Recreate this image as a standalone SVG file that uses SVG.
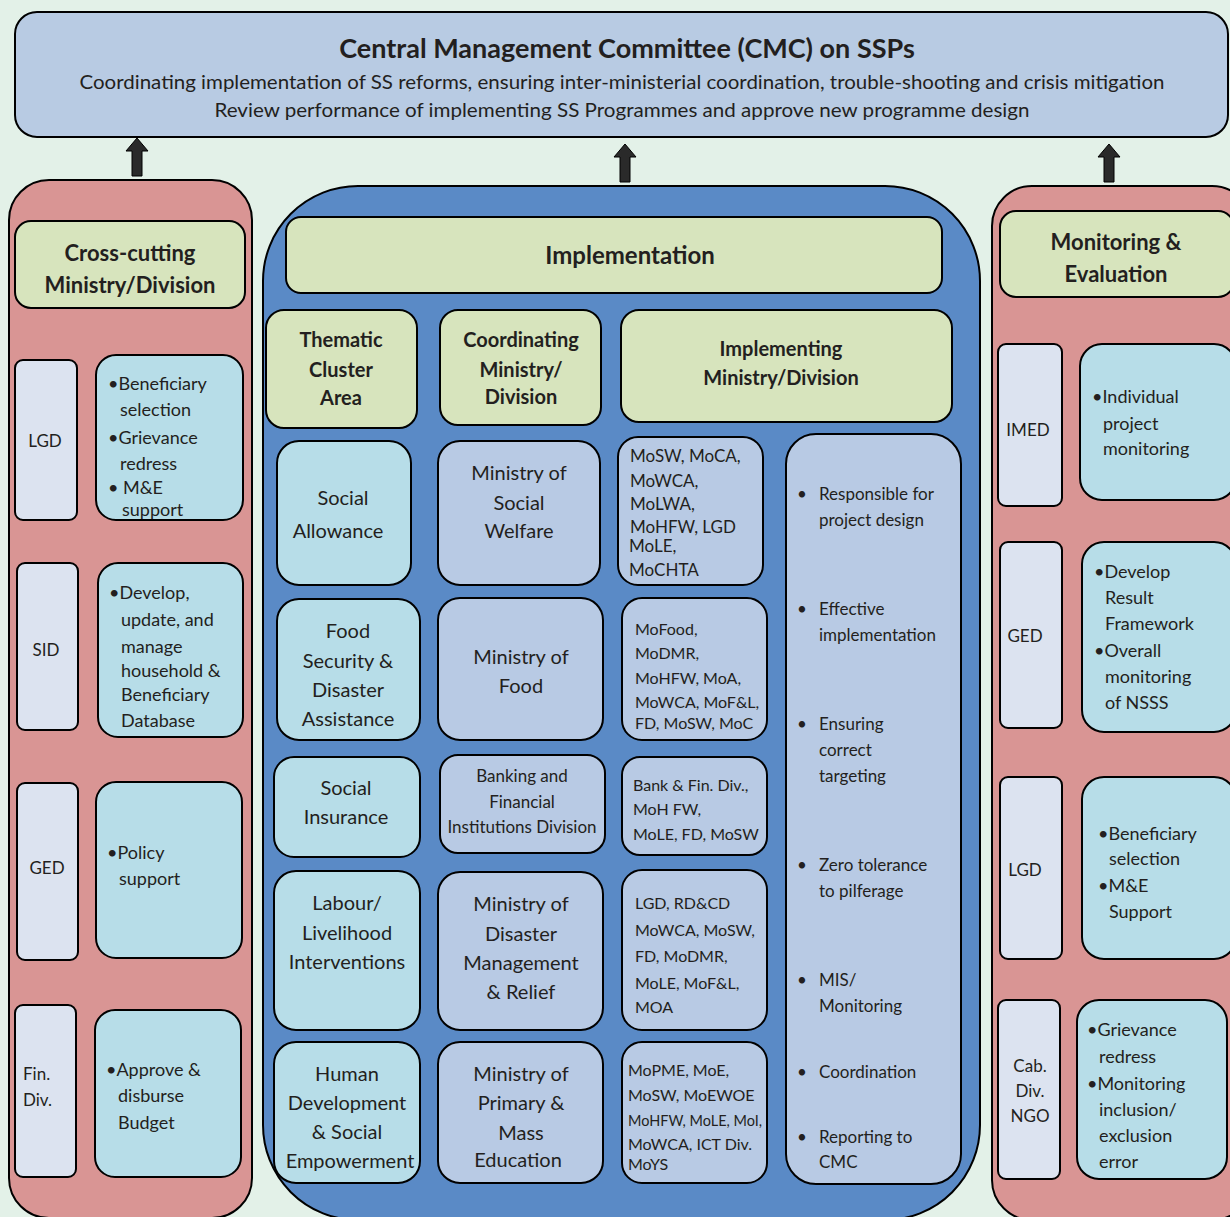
<svg xmlns="http://www.w3.org/2000/svg" xmlns:xlink="http://www.w3.org/1999/xlink" width="1230" height="1217" viewBox="0 0 1230 1217">
<style>
text{font-family:Lato,"Open Sans","Liberation Sans",sans-serif;fill:#231f20}
.b{font-weight:bold}
.c{text-anchor:middle}
.hdr{fill:#d7e4bd;stroke:#000;stroke-width:2}
.pink{fill:#d99594;stroke:#000;stroke-width:2}
.lav{fill:#dce3f0;stroke:#000;stroke-width:2}
.cy{fill:#b7dde8;stroke:#000;stroke-width:2}
.bl{fill:#b8cae4;stroke:#000;stroke-width:2}
.t18{font-size:18px}
.t20{font-size:20px}
.t17{font-size:17px}
.t16{font-size:16px}
.arr{fill:#2a2a2a;stroke:#000;stroke-width:1}
</style>
<defs>
<path id="ra" d="M0,-4 H9 V-8 L16,0 L9,8 V4 H0 Z"/>
<path id="ua" d="M-5,0 V-25 H-11 L0,-38 L11,-25 H5 V0 Z"/>
</defs>
<rect width="1230" height="1217" fill="#e3f1e8"/>

<g id="cmc">
<rect x="15" y="12" width="1213" height="125" rx="22" fill="#b8cbe3" stroke="#000" stroke-width="2"/>
<text x="627" y="58" class="b c" font-size="27">Central Management Committee (CMC) on SSPs</text>
<text x="622" y="89" class="c" font-size="20" textLength="1085" lengthAdjust="spacingAndGlyphs">Coordinating implementation of SS reforms, ensuring inter-ministerial coordination, trouble-shooting and crisis mitigation</text>
<text x="622" y="117" class="c" font-size="20" textLength="815" lengthAdjust="spacingAndGlyphs">Review performance of implementing SS Programmes and approve new programme design</text>
</g>

<g id="connectors" class="arr">
<use xlink:href="#ua" href="#ua" x="137" y="176"/>
<use xlink:href="#ua" href="#ua" x="625" y="182"/>
<use xlink:href="#ua" href="#ua" x="1109" y="182"/>
<use xlink:href="#ra" href="#ra" x="79" y="440"/>
<use xlink:href="#ra" href="#ra" x="80" y="650"/>
<use xlink:href="#ra" href="#ra" x="79" y="870"/>
<use xlink:href="#ra" href="#ra" x="78" y="1091"/>
<use xlink:href="#ra" href="#ra" x="413" y="503"/>
<use xlink:href="#ra" href="#ra" x="601" y="512"/>
<use xlink:href="#ra" href="#ra" x="765" y="508"/>
<use xlink:href="#ra" href="#ra" x="421" y="664"/>
<use xlink:href="#ra" href="#ra" x="604" y="665"/>
<use xlink:href="#ra" href="#ra" x="768" y="661"/>
<use xlink:href="#ra" href="#ra" x="421" y="802"/>
<use xlink:href="#ra" href="#ra" x="605" y="801"/>
<use xlink:href="#ra" href="#ra" x="768" y="801"/>
<use xlink:href="#ra" href="#ra" x="421" y="951"/>
<use xlink:href="#ra" href="#ra" x="604" y="953"/>
<use xlink:href="#ra" href="#ra" x="768" y="954"/>
<use xlink:href="#ra" href="#ra" x="421" y="1109"/>
<use xlink:href="#ra" href="#ra" x="604" y="1109"/>
<use xlink:href="#ra" href="#ra" x="768" y="1109"/>
<use xlink:href="#ra" href="#ra" x="1063" y="423"/>
<use xlink:href="#ra" href="#ra" x="1064" y="634"/>
<use xlink:href="#ra" href="#ra" x="1064" y="869"/>
<use xlink:href="#ra" href="#ra" x="1061" y="1088"/>
</g>

<!-- Left column -->
<g id="left-column">
<rect x="9" y="180" width="243" height="1038" rx="40" class="pink"/>
</g>
<g id="cross-cutting-header">
<rect x="15" y="221" width="230" height="87" rx="16" class="hdr"/>
<text x="130" y="261" class="b c" font-size="22">Cross-cutting</text>
<text x="130" y="293" class="b c" font-size="22">Ministry/Division</text>
</g>
<g id="l-lgd">
<rect x="15" y="360" width="62" height="160" rx="8" class="lav"/>
<text x="45" y="447" class="c t17">LGD</text>
</g>
<g id="l-lgd-roles">
<rect x="96" y="355" width="147" height="165" rx="20" class="cy"/>
<text class="t18"><tspan x="108" y="390">•Beneficiary</tspan><tspan x="120" y="416">selection</tspan><tspan x="108" y="444">•Grievance</tspan><tspan x="120" y="470">redress</tspan><tspan x="108" y="494">• M&amp;E</tspan></text>
<text x="122" y="516" class="t18">support</text>
</g>
<g id="l-sid">
<rect x="17" y="563" width="61" height="167" rx="8" class="lav"/>
<text x="46" y="656" class="c t17">SID</text>
</g>
<g id="l-sid-roles">
<rect x="98" y="563" width="145" height="174" rx="20" class="cy"/>
<text class="t18"><tspan x="109" y="599">•Develop,</tspan><tspan x="121" y="626">update, and</tspan><tspan x="121" y="653">manage</tspan><tspan x="121" y="677">household &amp;</tspan><tspan x="121" y="701">Beneficiary</tspan><tspan x="121" y="727">Database</tspan></text>
</g>
<g id="l-ged">
<rect x="17" y="783" width="61" height="177" rx="8" class="lav"/>
<text x="47" y="874" class="c t17">GED</text>
</g>
<g id="l-ged-roles">
<rect x="96" y="782" width="146" height="176" rx="20" class="cy"/>
<text class="t18"><tspan x="107" y="859">•Policy</tspan><tspan x="119" y="885">support</tspan></text>
</g>
<g id="l-fin">
<rect x="15" y="1005" width="61" height="172" rx="8" class="lav"/>
<text class="t17"><tspan x="23" y="1080">Fin.</tspan><tspan x="23" y="1106">Div.</tspan></text>
</g>
<g id="l-fin-roles">
<rect x="95" y="1010" width="146" height="167" rx="20" class="cy"/>
<text class="t18"><tspan x="106" y="1076">•Approve &amp;</tspan><tspan x="118" y="1102">disburse</tspan><tspan x="118" y="1129">Budget</tspan></text>
</g>

<!-- Center -->
<g id="implementation-panel">
<rect x="263" y="186" width="717" height="1034" rx="95" fill="#5a8ac6" stroke="#000" stroke-width="2"/>
</g>
<g id="implementation-header">
<rect x="286" y="217" width="656" height="76" rx="15" class="hdr"/>
<text x="630" y="264" class="b c" font-size="24">Implementation</text>
</g>
<g id="h-thematic">
<rect x="266" y="310" width="151" height="118" rx="18" class="hdr"/>
<text class="b c t20"><tspan x="341" y="347">Thematic</tspan><tspan x="341" y="377">Cluster</tspan><tspan x="341" y="405">Area</tspan></text>
</g>
<g id="h-coordinating">
<rect x="440" y="310" width="161" height="115" rx="18" class="hdr"/>
<text class="b c t20"><tspan x="521" y="347">Coordinating</tspan><tspan x="521" y="377">Ministry/</tspan><tspan x="521" y="404">Division</tspan></text>
</g>
<g id="h-implementing">
<rect x="621" y="310" width="331" height="112" rx="18" class="hdr"/>
<text class="b c t20"><tspan x="781" y="356">Implementing</tspan><tspan x="781" y="385">Ministry/Division</tspan></text>
</g>

<g id="r1-thematic">
<rect x="277" y="441" width="134" height="144" rx="22" class="cy"/>
<text class="c t20"><tspan x="343" y="505">Social</tspan><tspan x="338" y="538">Allowance</tspan></text>
</g>
<g id="r1-coord">
<rect x="438" y="441" width="162" height="144" rx="22" class="bl"/>
<text class="c t20"><tspan x="519" y="480">Ministry of</tspan><tspan x="519" y="510">Social</tspan><tspan x="519" y="538">Welfare</tspan></text>
</g>
<g id="r1-impl">
<rect x="618" y="437" width="145" height="148" rx="20" class="bl"/>
<text class="t17"><tspan x="630" y="462">MoSW, MoCA,</tspan><tspan x="630" y="487">MoWCA,</tspan><tspan x="630" y="510">MoLWA,</tspan><tspan x="630" y="533">MoHFW, LGD</tspan><tspan x="629" y="552">MoLE,</tspan><tspan x="629" y="576">MoCHTA</tspan></text>
</g>

<g id="r2-thematic">
<rect x="277" y="599" width="143" height="141" rx="22" class="cy"/>
<text class="c t20"><tspan x="348" y="638">Food</tspan><tspan x="348" y="668">Security &amp;</tspan><tspan x="348" y="697">Disaster</tspan><tspan x="348" y="726">Assistance</tspan></text>
</g>
<g id="r2-coord">
<rect x="438" y="598" width="165" height="142" rx="22" class="bl"/>
<text class="c t20"><tspan x="521" y="664">Ministry of</tspan><tspan x="521" y="693">Food</tspan></text>
</g>
<g id="r2-impl">
<rect x="622" y="598" width="145" height="142" rx="20" class="bl"/>
<text class="t16"><tspan x="635" y="635">MoFood,</tspan><tspan x="635" y="659">MoDMR,</tspan><tspan x="635" y="684">MoHFW, MoA,</tspan><tspan x="635" y="708">MoWCA, MoF&amp;L,</tspan><tspan x="635" y="729">FD, MoSW, MoC</tspan></text>
</g>

<g id="r3-thematic">
<rect x="274" y="757" width="146" height="100" rx="20" class="cy"/>
<text class="c t20"><tspan x="346" y="795">Social</tspan><tspan x="346" y="824">Insurance</tspan></text>
</g>
<g id="r3-coord">
<rect x="440" y="755" width="165" height="98" rx="18" class="bl"/>
<text class="c t17"><tspan x="522" y="782">Banking and</tspan><tspan x="522" y="808">Financial</tspan><tspan x="522" y="833">Institutions Division</tspan></text>
</g>
<g id="r3-impl">
<rect x="622" y="757" width="145" height="98" rx="18" class="bl"/>
<text class="t16"><tspan x="633" y="791">Bank &amp; Fin. Div.,</tspan><tspan x="633" y="815">MoH FW,</tspan><tspan x="633" y="840">MoLE, FD, MoSW</tspan></text>
</g>

<g id="r4-thematic">
<rect x="274" y="871" width="146" height="159" rx="22" class="cy"/>
<text class="c t20"><tspan x="347" y="910">Labour/</tspan><tspan x="347" y="940">Livelihood</tspan><tspan x="347" y="969">Interventions</tspan></text>
</g>
<g id="r4-coord">
<rect x="438" y="872" width="165" height="158" rx="22" class="bl"/>
<text class="c t20"><tspan x="521" y="911">Ministry of</tspan><tspan x="521" y="941">Disaster</tspan><tspan x="521" y="970">Management</tspan><tspan x="521" y="999">&amp; Relief</tspan></text>
</g>
<g id="r4-impl">
<rect x="622" y="870" width="145" height="160" rx="20" class="bl"/>
<text class="t16"><tspan x="635" y="909">LGD, RD&amp;CD</tspan><tspan x="635" y="936">MoWCA, MoSW,</tspan><tspan x="635" y="962">FD, MoDMR,</tspan><tspan x="635" y="989">MoLE, MoF&amp;L,</tspan><tspan x="635" y="1013">MOA</tspan></text>
</g>

<g id="r5-thematic">
<rect x="274" y="1042" width="146" height="141" rx="22" class="cy"/>
<text class="c t20"><tspan x="347" y="1081">Human</tspan><tspan x="347" y="1110">Development</tspan><tspan x="347" y="1139">&amp; Social</tspan><tspan x="350" y="1168">Empowerment</tspan></text>
</g>
<g id="r5-coord">
<rect x="438" y="1042" width="165" height="141" rx="22" class="bl"/>
<text class="c t20"><tspan x="521" y="1081">Ministry of</tspan><tspan x="521" y="1110">Primary &amp;</tspan><tspan x="521" y="1140">Mass</tspan><tspan x="518" y="1167">Education</tspan></text>
</g>
<g id="r5-impl">
<rect x="622" y="1042" width="145" height="141" rx="20" class="bl"/>
<text class="t16"><tspan x="628" y="1076">MoPME, MoE,</tspan><tspan x="628" y="1101">MoSW, MoEWOE</tspan></text>
<text x="628" y="1126" class="t16" textLength="134" lengthAdjust="spacingAndGlyphs">MoHFW, MoLE, MoI,</text>
<text class="t16"><tspan x="628" y="1150">MoWCA, ICT Div.</tspan><tspan x="628" y="1170">MoYS</tspan></text>
</g>

<g id="responsibilities">
<rect x="786" y="434" width="175" height="750" rx="30" class="bl"/>
<g class="t17">
<text x="797" y="500">•</text><text x="819" y="500">Responsible for</text><text x="819" y="526">project design</text>
<text x="797" y="615">•</text><text x="819" y="615">Effective</text><text x="819" y="641">implementation</text>
<text x="797" y="730">•</text><text x="819" y="730">Ensuring</text><text x="819" y="756">correct</text><text x="819" y="782">targeting</text>
<text x="797" y="871">•</text><text x="819" y="871">Zero tolerance</text><text x="819" y="897">to pilferage</text>
<text x="797" y="986">•</text><text x="819" y="986">MIS/</text><text x="819" y="1012">Monitoring</text>
<text x="797" y="1078">•</text><text x="819" y="1078">Coordination</text>
<text x="797" y="1143">•</text><text x="819" y="1143">Reporting to</text><text x="819" y="1168">CMC</text>
</g>
</g>

<!-- Right column -->
<g id="right-column">
<rect x="992" y="186" width="260" height="1034" rx="40" class="pink"/>
</g>
<g id="me-header">
<rect x="1000" y="211" width="234" height="86" rx="16" class="hdr"/>
<text class="b c" font-size="22"><tspan x="1116" y="250">Monitoring &amp;</tspan><tspan x="1116" y="282">Evaluation</tspan></text>
</g>
<g id="r-imed">
<rect x="998" y="344" width="64" height="162" rx="8" class="lav"/>
<text x="1028" y="436" class="c t17">IMED</text>
</g>
<g id="r-imed-roles">
<rect x="1080" y="344" width="156" height="156" rx="22" class="cy"/>
<text class="t18"><tspan x="1092" y="403">•Individual</tspan><tspan x="1103" y="430">project</tspan><tspan x="1103" y="455">monitoring</tspan></text>
</g>
<g id="r-ged">
<rect x="1000" y="542" width="62" height="186" rx="8" class="lav"/>
<text x="1025" y="642" class="c t17">GED</text>
</g>
<g id="r-ged-roles">
<rect x="1082" y="542" width="154" height="190" rx="22" class="cy"/>
<text class="t18"><tspan x="1094" y="578">•Develop</tspan><tspan x="1105" y="604">Result</tspan><tspan x="1105" y="630">Framework</tspan><tspan x="1094" y="657">•Overall</tspan><tspan x="1105" y="683">monitoring</tspan><tspan x="1105" y="709">of NSSS</tspan></text>
</g>
<g id="r-lgd">
<rect x="1000" y="777" width="62" height="182" rx="8" class="lav"/>
<text x="1025" y="876" class="c t17">LGD</text>
</g>
<g id="r-lgd-roles">
<rect x="1082" y="777" width="154" height="182" rx="22" class="cy"/>
<text class="t18"><tspan x="1098" y="840">•Beneficiary</tspan><tspan x="1109" y="865">selection</tspan><tspan x="1098" y="892">•M&amp;E</tspan><tspan x="1109" y="918">Support</tspan></text>
</g>
<g id="r-cab">
<rect x="998" y="1000" width="62" height="179" rx="8" class="lav"/>
<text class="c t17"><tspan x="1030" y="1072">Cab.</tspan><tspan x="1030" y="1097">Div.</tspan><tspan x="1030" y="1122">NGO</tspan></text>
</g>
<g id="r-cab-roles">
<rect x="1077" y="1000" width="150" height="179" rx="22" class="cy"/>
<text class="t18"><tspan x="1087" y="1036">•Grievance</tspan><tspan x="1099" y="1063">redress</tspan><tspan x="1087" y="1090">•Monitoring</tspan><tspan x="1099" y="1116">inclusion/</tspan><tspan x="1099" y="1142">exclusion</tspan><tspan x="1099" y="1168">error</tspan></text>
</g>
</svg>
